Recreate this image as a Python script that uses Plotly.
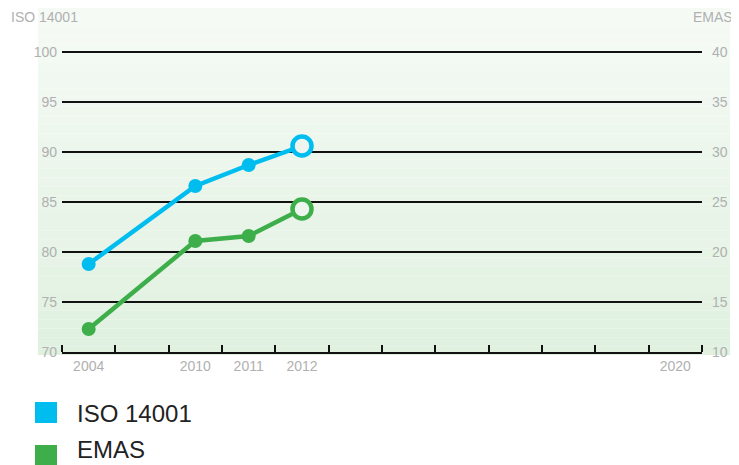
import plotly.graph_objects as go

# slots along the x axis (12 equal slots, labels centred in each)
x_labels = ["2004", "", "2010", "2011", "2012", "", "", "", "", "", "", "2020"]
years = ["2004", "2010", "2011", "2012"]

iso_values = [78.8, 86.6, 88.7, 90.6]    # left axis
emas_values = [12.3, 21.1, 21.6, 24.3]   # right axis

left_ticks = [70, 75, 80, 85, 90, 95, 100]
right_ticks = [10, 15, 20, 25, 30, 35, 40]

BLUE = "#00bdf0"
GREEN = "#3dae4a"
LABEL_GRAY = "#b0b0b0"
FONT = "Liberation Sans"

# the page body adds an 8px margin, so the figure is drawn 8px smaller
# and all reference pixel positions are shifted by OFF
OFF = 8
WIN_W, WIN_H = 739, 465
L, R, T, B = 62, 702, 52, 352          # plot area in window pixels (70..100)
Y_TOP = 100.4                           # a bit above 100 so the top grid line is drawn
TOP_PX = B - (B - T) * (Y_TOP - 70) / 30


def px(x):
    return (x - L) / (R - L)


def py(y):
    return (B - y) / (B - TOP_PX)


def slot_x(label):
    return x_labels.index(label) + 0.5


def series(name, values, color, axis):
    n = len(values)
    return go.Scatter(
        x=[slot_x(y) for y in years],
        y=values,
        name=name,
        yaxis=axis,
        mode="lines+markers",
        line=dict(color=color, width=4.5),
        marker=dict(
            size=[14] * (n - 1) + [19],
            color=[color] * (n - 1) + ["#eef5ee"],
            opacity=1,
            line=dict(color=color, width=[0] * (n - 1) + [4.5]),
        ),
        showlegend=False,
        cliponaxis=False,
    )


fig = go.Figure()
fig.add_trace(series("ISO 14001", iso_values, BLUE, "y"))
fig.add_trace(series("EMAS", emas_values, GREEN, "y2"))

# background gradient behind the plot (light at top, pale green at bottom)
top_rgb = (246, 250, 246)
bot_rgb = (224, 241, 224)
n_bands = 40
bg_top, bg_bot = 0, 355
shapes = []
for i in range(n_bands):
    t = i / (n_bands - 1)
    c = tuple(round(a + (b - a) * t) for a, b in zip(top_rgb, bot_rgb))
    y0 = bg_top + (bg_bot - bg_top) * i / n_bands
    y1 = bg_top + (bg_bot - bg_top) * (i + 1) / n_bands
    shapes.append(dict(
        type="rect", xref="paper", yref="paper",
        x0=px(38), x1=px(730), y0=py(y1), y1=py(y0),
        fillcolor="rgb(%d,%d,%d)" % c, line_width=0, layer="below",
    ))

# legend squares
for color, (y0, y1) in [(BLUE, (402, 423)), (GREEN, (445, 466))]:
    shapes.append(dict(
        type="rect", xref="paper", yref="paper",
        x0=px(35), x1=px(57), y0=py(y1), y1=py(y0),
        fillcolor=color, line_width=0,
    ))

annotations = [
    dict(text="ISO 14001", x=px(9), y=py(17), xanchor="left", yanchor="middle",
         font=dict(size=14, color=LABEL_GRAY)),
    dict(text="EMAS", x=px(735), y=py(17), xanchor="right", yanchor="middle",
         font=dict(size=14, color=LABEL_GRAY)),
    dict(text="ISO 14001", x=px(75), y=py(413), xanchor="left", yanchor="middle",
         font=dict(size=24, color="#222222")),
    dict(text="EMAS", x=px(75), y=py(465), xanchor="left", yanchor="bottom",
         font=dict(size=24, color="#222222")),
]
for a in annotations:
    a.update(xref="paper", yref="paper", showarrow=False)

fig.update_layout(
    width=WIN_W - OFF, height=WIN_H - OFF,
    margin=dict(l=L - OFF, r=WIN_W - R, t=TOP_PX - OFF, b=WIN_H - B),
    paper_bgcolor="white",
    plot_bgcolor="rgba(0,0,0,0)",
    font=dict(family=FONT, color=LABEL_GRAY, size=14),
    shapes=shapes,
    annotations=annotations,
    xaxis=dict(
        range=[0, len(x_labels)],
        tickmode="array",
        tickvals=[i + 0.5 for i in range(len(x_labels))],
        ticktext=x_labels,
        ticks="",
        showgrid=False,
        zeroline=False,
        showline=True, linecolor="#111111", linewidth=1.5,
        minor=dict(tickmode="array", tickvals=list(range(len(x_labels) + 1)),
                   ticks="inside", ticklen=7, tickwidth=1.5, tickcolor="#111111",
                   showgrid=False),
        tickfont=dict(size=14, color=LABEL_GRAY),
        fixedrange=True,
    ),
    yaxis=dict(
        range=[70, Y_TOP],
        tickvals=left_ticks,
        showgrid=True, gridcolor="#111111", gridwidth=1.5,
        zeroline=False,
        ticks="",
        ticklabelstandoff=4,
        tickfont=dict(size=14, color=LABEL_GRAY),
    ),
    yaxis2=dict(
        range=[10, 10 + (Y_TOP - 70)],
        tickvals=right_ticks,
        overlaying="y", side="right",
        showgrid=False, zeroline=False,
        ticks="",
        ticklabelstandoff=9,
        tickfont=dict(size=14, color=LABEL_GRAY),
    ),
)

fig.write_html("out.html")
